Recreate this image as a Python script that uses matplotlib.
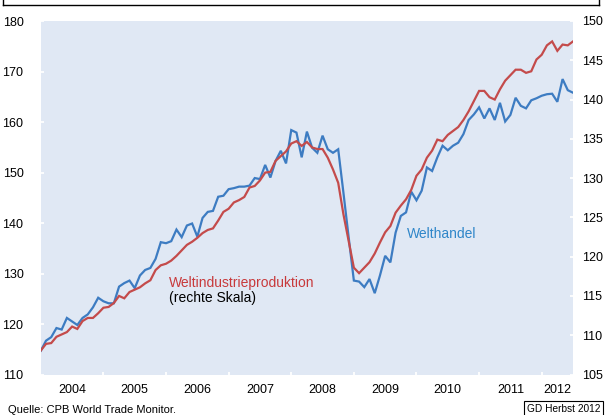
import matplotlib
matplotlib.use("Agg")
import matplotlib.pyplot as plt
from matplotlib.lines import Line2D

plt.rcParams['font.family'] = ['Liberation Sans', 'DejaVu Sans']

# Monthly data, Jan 2004 - Jul 2012
years = ["2004", "2005", "2006", "2007", "2008", "2009", "2010", "2011", "2012"]

welthandel = [
    114.7, 116.7, 117.4, 119.2, 118.9, 121.2, 120.5, 119.8, 121.2, 121.9, 123.3, 125.2,
    124.5, 124.1, 124.1, 127.4, 128.1, 128.6, 127.1, 129.6, 130.7, 131.1, 132.9, 136.2,
    136.0, 136.4, 138.7, 137.2, 139.5, 139.9, 137.3, 141.0, 142.2, 142.4, 145.2, 145.4,
    146.7, 146.9, 147.2, 147.2, 147.4, 148.9, 148.7, 151.5, 149.0, 152.3, 154.3, 151.8,
    158.4, 157.9, 153.0, 158.1, 154.9, 153.9, 157.3, 154.6, 153.9, 154.6, 146.0, 137.2,
    128.6, 128.4, 127.3, 128.9, 126.1, 129.6, 133.5, 132.2, 138.1, 141.4, 142.1, 146.2,
    144.5, 146.4, 151.0, 150.3, 153.0, 155.3, 154.4, 155.3, 155.9, 157.6, 160.4, 161.5,
    162.9, 160.7, 162.7, 160.4, 163.8, 160.1, 161.4, 164.8, 163.2, 162.7, 164.3, 164.7,
    165.2, 165.5, 165.6, 164.0, 168.5, 166.3, 165.8,
]

weltindustrie = [
    108.05, 108.9, 109.0, 109.8, 110.1, 110.4, 111.1, 110.8, 111.8, 112.2, 112.2, 112.8,
    113.5, 113.6, 114.1, 115.0, 114.7, 115.5, 115.8, 116.1, 116.6, 117.0, 118.3, 118.9,
    119.1, 119.5, 120.1, 120.8, 121.5, 121.9, 122.4, 123.0, 123.4, 123.6, 124.6, 125.7,
    126.1, 126.9, 127.2, 127.6, 128.8, 129.0, 129.7, 130.7, 130.8, 132.2, 132.8, 133.4,
    134.4, 134.7, 134.1, 134.6, 133.9, 133.7, 133.7, 132.6, 131.1, 129.4, 125.4, 122.0,
    118.6, 117.9, 118.6, 119.3, 120.4, 121.8, 123.1, 123.9, 125.6, 126.5, 127.3, 128.5,
    130.3, 131.1, 132.6, 133.5, 134.9, 134.7, 135.5, 136.0, 136.5, 137.4, 138.5, 139.8,
    141.1, 141.1, 140.3, 140.0, 141.3, 142.4, 143.1, 143.8, 143.8, 143.4, 143.6, 145.1,
    145.7, 146.9, 147.4, 146.2, 147.0, 146.9, 147.4,
]

left_ticks = [110, 120, 130, 140, 150, 160, 170, 180]
right_ticks = [105, 110, 115, 120, 125, 130, 135, 140, 145, 150]

months = list(range(len(welthandel)))
n = len(months)

W, H = 607, 415
fig = plt.figure(figsize=(W / 100, H / 100), dpi=100)
fig.patch.set_facecolor('white')

x0, x1 = 40.8, 573.0
y0, y1 = 21.0, 374.5
ax = fig.add_axes([x0 / W, 1 - y1 / H, (x1 - x0) / W, (y1 - y0) / H])
ax.set_facecolor('#E0E8F4')
for s in ax.spines.values():
    s.set_visible(False)

blue = '#3D7CC2'
red = '#C44B4B'

ax.plot(months, welthandel, color=blue, lw=1.6, solid_joinstyle='miter')
ax.set_xlim(0, n - 1)
ax.set_ylim(110, 180)
ax.set_yticks(left_ticks)
ax.tick_params(axis='y', direction='inout', length=5, width=1.3, color='white',
               labelsize=9, pad=10, labelcolor='black')

# x axis: ticks at year boundaries, labels centred in each year
bounds = [12 * k for k in range(1, len(years))]
centers = [min(12 * k + 6, (12 * k + n - 1) / 2) for k in range(len(years))]
ax.set_xticks(bounds)
ax.set_xticklabels([])
ax.set_xticks(centers, minor=True)
ax.set_xticklabels(years, minor=True)
ax.tick_params(axis='x', which='major', direction='inout', length=5, width=1.3, color='white')
ax.tick_params(axis='x', which='minor', length=0, labelsize=9, pad=7)

ax2 = ax.twinx()
for s in ax2.spines.values():
    s.set_visible(False)
ax2.plot(months, weltindustrie, color=red, lw=1.6, solid_joinstyle='miter')
ax2.set_ylim(105, 150)
ax2.set_yticks(right_ticks)
ax2.tick_params(axis='y', direction='inout', length=5, width=1.3, color='white',
                labelsize=9, pad=4, labelcolor='black')
ax2.set_xlim(0, n - 1)

# Annotations
ax.text(0.688, 0.397, 'Welthandel', transform=ax.transAxes, color='#2F86C9',
        fontsize=10, ha='left', va='center')
ax.text(0.241, 0.259, 'Weltindustrieproduktion', transform=ax.transAxes, color='#C8393B',
        fontsize=10, ha='left', va='center')
ax.text(0.241, 0.215, '(rechte Skala)', transform=ax.transAxes, color='black',
        fontsize=10, ha='left', va='center')

# Top frame remnant
fig.add_artist(Line2D([3 / W, 599 / W], [1 - 5 / H, 1 - 5 / H], color='black', lw=1.0,
                      transform=fig.transFigure))
fig.add_artist(Line2D([3 / W, 3 / W], [1 - 5 / H, 1.0], color='black', lw=1.0,
                      transform=fig.transFigure))
fig.add_artist(Line2D([599 / W, 599 / W], [1 - 5 / H, 1.0], color='black', lw=1.0,
                      transform=fig.transFigure))

# Footer
fig.text(8 / W, 1 - 405 / H, 'Quelle: CPB World Trade Monitor.', fontsize=8,
         ha='left', va='top', color='black')
fig.text(527 / W, 1 - 404 / H, 'GD Herbst 2012', fontsize=7.3, ha='left', va='top',
         color='black',
         bbox=dict(boxstyle='square,pad=0.25', facecolor='white', edgecolor='black', lw=0.8))

fig.savefig('out.png', dpi=100)
